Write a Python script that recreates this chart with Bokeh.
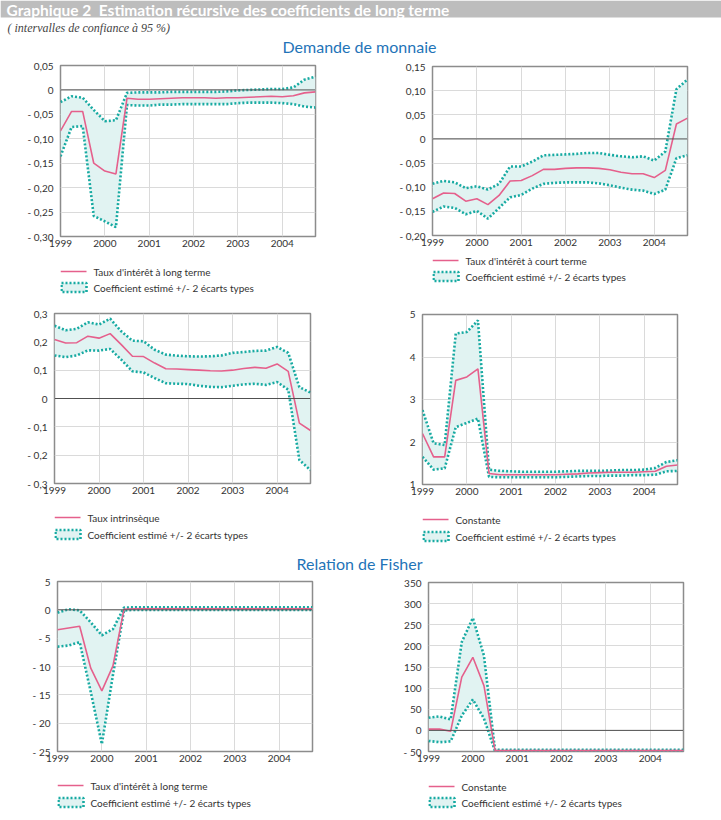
from bokeh.core.properties import value
from bokeh.embed import file_html
from bokeh.layouts import column, row
from bokeh.models import FixedTicker, Range1d, Span
from bokeh.plotting import figure
from bokeh.resources import INLINE

# ---------------------------------------------------------------- data
dates = [1999.0, 1999.25, 1999.5, 1999.75, 2000.0, 2000.25, 2000.5, 2000.75,
         2001.0, 2001.25, 2001.5, 2001.75, 2002.0, 2002.25, 2002.5, 2002.75,
         2003.0, 2003.25, 2003.5, 2003.75, 2004.0, 2004.25, 2004.5, 2004.75]

year_ticks = [1999, 2000, 2001, 2002, 2003, 2004]
year_labels = ["1999", "2000", "2001", "2002", "2003", "2004"]

# Demande de monnaie : taux d'intérêt à long terme
md_long_est = [-0.084, -0.044, -0.044, -0.150, -0.166, -0.172, -0.017, -0.019,
               -0.019, -0.018, -0.017, -0.016, -0.016, -0.016, -0.017, -0.016,
               -0.016, -0.015, -0.014, -0.013, -0.014, -0.012, -0.006, -0.004]
md_long_up = [-0.025, -0.013, -0.016, -0.041, -0.064, -0.062, -0.006, -0.005,
              -0.005, -0.005, -0.004, -0.004, -0.004, -0.004, -0.004, -0.003,
              -0.001, 0.000, 0.001, 0.002, 0.002, 0.005, 0.021, 0.027]
md_long_lo = [-0.136, -0.076, -0.074, -0.258, -0.269, -0.281, -0.031, -0.032,
              -0.032, -0.030, -0.030, -0.029, -0.029, -0.029, -0.029, -0.029,
              -0.027, -0.026, -0.026, -0.026, -0.027, -0.029, -0.034, -0.036]
md_long_ticks = [0.05, 0.0, -0.05, -0.10, -0.15, -0.20, -0.25, -0.30]
md_long_labels = ["0,05", "0", "- 0,05", "- 0,10", "- 0,15", "- 0,20", "- 0,25", "- 0,30"]

# Demande de monnaie : taux d'intérêt à court terme
md_court_est = [-0.124, -0.112, -0.113, -0.129, -0.124, -0.136, -0.117, -0.087,
                -0.086, -0.076, -0.063, -0.063, -0.061, -0.060, -0.060, -0.061,
                -0.064, -0.069, -0.072, -0.072, -0.080, -0.065, 0.031, 0.043]
md_court_up = [-0.093, -0.087, -0.090, -0.102, -0.098, -0.105, -0.093, -0.057,
               -0.057, -0.047, -0.034, -0.033, -0.032, -0.031, -0.029, -0.029,
               -0.033, -0.036, -0.038, -0.036, -0.045, -0.026, 0.103, 0.123]
md_court_lo = [-0.151, -0.140, -0.143, -0.156, -0.149, -0.165, -0.143, -0.121,
               -0.116, -0.103, -0.093, -0.091, -0.090, -0.090, -0.090, -0.092,
               -0.096, -0.101, -0.105, -0.107, -0.114, -0.105, -0.040, -0.034]
md_court_ticks = [0.15, 0.10, 0.05, 0.0, -0.05, -0.10, -0.15, -0.20]
md_court_labels = ["0,15", "0,10", "0,05", "0", "- 0,05", "- 0,10", "- 0,15", "- 0,20"]

# Demande de monnaie : taux intrinsèque
md_intr_est = [0.208, 0.196, 0.197, 0.220, 0.213, 0.229, 0.190, 0.149,
               0.148, 0.125, 0.105, 0.104, 0.102, 0.100, 0.098, 0.097,
               0.100, 0.106, 0.110, 0.107, 0.122, 0.096, -0.087, -0.113]
md_intr_up = [0.257, 0.241, 0.246, 0.269, 0.261, 0.282, 0.237, 0.204,
              0.202, 0.172, 0.155, 0.151, 0.149, 0.148, 0.149, 0.152,
              0.161, 0.164, 0.168, 0.169, 0.182, 0.161, 0.040, 0.021]
md_intr_lo = [0.152, 0.146, 0.152, 0.170, 0.169, 0.175, 0.137, 0.096,
              0.092, 0.072, 0.054, 0.052, 0.051, 0.045, 0.041, 0.040,
              0.045, 0.050, 0.052, 0.048, 0.058, 0.031, -0.217, -0.253]
md_intr_ticks = [0.3, 0.2, 0.1, 0.0, -0.1, -0.2, -0.3]
md_intr_labels = ["0,3", "0,2", "0,1", "0", "- 0,1", "- 0,2", "- 0,3"]

# Demande de monnaie : constante
md_const_est = [2.20, 1.65, 1.65, 3.45, 3.53, 3.72, 1.26, 1.23,
                1.23, 1.23, 1.23, 1.23, 1.23, 1.24, 1.25, 1.27,
                1.28, 1.29, 1.29, 1.29, 1.30, 1.31, 1.43, 1.46]
md_const_up = [2.75, 1.97, 1.93, 4.55, 4.59, 4.86, 1.35, 1.32,
               1.31, 1.30, 1.30, 1.30, 1.30, 1.31, 1.32, 1.32,
               1.32, 1.33, 1.34, 1.34, 1.35, 1.39, 1.53, 1.57]
md_const_lo = [1.65, 1.35, 1.38, 2.35, 2.45, 2.55, 1.18, 1.17,
               1.17, 1.17, 1.17, 1.17, 1.17, 1.18, 1.19, 1.20,
               1.20, 1.21, 1.21, 1.22, 1.22, 1.23, 1.31, 1.32]
md_const_ticks = [5, 4, 3, 2, 1]
md_const_labels = ["5", "4", "3", "2", "1"]

# Relation de Fisher : taux d'intérêt à long terme
fi_long_est = [-3.5, -3.2, -2.9, -10.3, -14.3, -9.9, 0.1, 0.2,
               0.2, 0.2, 0.2, 0.2, 0.2, 0.2, 0.2, 0.2,
               0.2, 0.2, 0.2, 0.2, 0.2, 0.2, 0.2, 0.2]
fi_long_up = [-0.5, 0.1, -0.1, -2.2, -4.5, -3.4, 0.4, 0.45,
              0.45, 0.45, 0.45, 0.45, 0.45, 0.45, 0.45, 0.45,
              0.45, 0.45, 0.45, 0.45, 0.45, 0.45, 0.45, 0.45]
fi_long_lo = [-6.5, -6.3, -5.7, -14.5, -23.7, -11.5, -0.1, 0.0,
              0.0, 0.0, 0.0, 0.0, 0.0, 0.0, 0.0, 0.0,
              0.0, 0.0, 0.0, 0.0, 0.0, 0.0, 0.0, 0.0]
fi_long_ticks = [5, 0, -5, -10, -15, -20, -25]
fi_long_labels = ["5", "0", "- 5", "- 10", "- 15", "- 20", "- 25"]

# Relation de Fisher : constante
fi_const_est = [3, 3, -2, 126, 173, 106, -48, -48,
                -48, -48, -48, -48, -48, -48, -48, -48,
                -48, -48, -48, -48, -48, -48, -48, -48]
fi_const_up = [30, 33, 26, 209, 266, 177, -46, -46,
               -46, -46, -46, -46, -46, -46, -46, -46,
               -46, -46, -46, -46, -46, -46, -46, -46]
fi_const_lo = [-25, -28, -26, 35, 73, 28, -49, -49,
               -49, -49, -49, -49, -49, -49, -49, -49,
               -49, -49, -49, -49, -49, -49, -49, -49]
fi_const_ticks = [350, 300, 250, 200, 150, 100, 50, 0, -50]
fi_const_labels = ["350", "300", "250", "200", "150", "100", "50", "0", "- 50"]

band_label = "Coefficient estimé +/- 2 écarts types"

# ---------------------------------------------------------------- style
FONT = "Lato"
PINK = "#e5608c"
TEAL = "#17aaa2"
BAND = "#e1f3f2"
GRID = "#dadada"
FRAME = "#8c8c8c"
TEXT = "#333333"
BLUE = "#1f74b8"
AXIS_BAND = 20  # room under the frame for the year labels


def blank(width, height, left=0, right=0):
    """Axis-free canvas whose data units are pixels (y grows downward).

    ``left``/``right`` reserve side borders so the drawing area lines up
    with the frame of the panel above it; x stays in page pixels.
    """
    h = figure(width=width, height=height, output_backend="svg",
               toolbar_location=None, x_axis_type=None, y_axis_type=None,
               x_range=Range1d(left, width - right), y_range=Range1d(height, 0),
               min_border=0, min_border_left=left, min_border_right=right,
               outline_line_color=None)
    h.grid.visible = False
    h.background_fill_color = "white"
    h.border_fill_color = "white"
    return h


def key(width, height, left, right, rows, label):
    """Two-entry key drawn under a panel, starting at the frame's left edge."""
    k = blank(width, height, left, right)
    r1, r2 = rows
    x0 = left
    k.segment(x0=[x0], y0=[r1], x1=[x0 + 26], y1=[r1],
              line_color=PINK, line_width=1.6)
    k.quad(left=[x0 + 1], right=[x0 + 26], top=[r2 - 4.5], bottom=[r2 + 4.5],
           fill_color=BAND, line_color=TEAL, line_width=2.6, line_dash="2 2")
    k.text(x=[x0 + 33, x0 + 33], y=[r1, r2], text=[label, band_label],
           text_font=value(FONT), text_font_size="10px", text_color=TEXT,
           text_baseline="middle", text_align="left")
    return k


def panel(width, cell_height, borders, y_lim, ticks, tick_labels,
          est, upper, lower, label, key_rows, zero_line=True):
    left, right, top, frame_h = borders
    height = top + frame_h + AXIS_BAND
    p = figure(width=width, height=height, output_backend="svg",
               toolbar_location=None,
               x_range=Range1d(dates[0], dates[-1]),
               y_range=Range1d(*y_lim),
               min_border_left=left, min_border_right=right,
               min_border_top=top, min_border_bottom=AXIS_BAND)
    p.background_fill_color = "white"
    p.border_fill_color = "white"
    p.outline_line_color = FRAME
    p.outline_line_width = 1.5

    for ax, tk, lb, standoff in ((p.xaxis, year_ticks, year_labels, 3),
                                 (p.yaxis, ticks, tick_labels, 7)):
        ax.ticker = FixedTicker(ticks=tk)
        ax.major_label_overrides = dict(zip(tk, lb))
        ax.axis_line_color = None
        ax.major_tick_line_color = None
        ax.minor_tick_line_color = None
        ax.major_tick_out = 0
        ax.major_tick_in = 0
        ax.major_label_standoff = standoff
        ax.major_label_text_font = FONT
        ax.major_label_text_font_size = "10px"
        ax.major_label_text_color = TEXT

    p.xgrid.ticker = FixedTicker(ticks=year_ticks)
    p.ygrid.ticker = FixedTicker(ticks=ticks)
    p.grid.grid_line_color = GRID
    p.grid.grid_line_width = 1

    # confidence band and its dotted bounds
    p.varea(x=dates, y1=lower, y2=upper, fill_color=BAND)
    if zero_line:
        p.add_layout(Span(location=0, dimension="width",
                          line_color="#505050", line_width=1))
    for bound in (upper, lower):
        p.line(dates, bound, line_color=TEAL, line_width=2.6,
               line_dash="2 2", line_cap="butt")
    p.line(dates, est, line_color=PINK, line_width=1.6)

    k = key(width, cell_height - height, left, right, key_rows, label)
    return column(p, k)


# ---------------------------------------------------------------- headings
top = blank(721, 56)
top.quad(left=0, right=721, top=0, bottom=17, fill_color="#bdbdbd",
         line_color=None)
top.text(x=[6], y=[9],
         text=["Graphique 2\u00a0\u00a0Estimation récursive des coefficients de long terme"],
         text_font=value(FONT), text_font_style="bold", text_font_size="15.5px",
         text_color="white", text_baseline="middle", text_align="left")
top.text(x=[7], y=[27], text=["( intervalles de confiance à 95 %)"],
         text_font=value("Liberation Serif"), text_font_style="italic",
         text_font_size="12px", text_color="#444444",
         text_baseline="middle", text_align="left")
top.text(x=[359], y=[46], text=["Demande de monnaie"],
         text_font=value(FONT), text_font_size="16px", text_color=BLUE,
         text_baseline="middle", text_align="center")

mid = blank(721, 26)
mid.text(x=[359], y=[15], text=["Relation de Fisher"],
         text_font=value(FONT), text_font_size="16px", text_color=BLUE,
         text_baseline="middle", text_align="center")

# ---------------------------------------------------------------- panels
p1 = panel(360, 244, (60, 45, 9, 171), (-0.30, 0.05), md_long_ticks, md_long_labels,
           md_long_est, md_long_up, md_long_lo, "Taux d'intérêt à long terme", (15, 31))
p2 = panel(361, 244, (72, 34, 10, 169), (-0.20, 0.15), md_court_ticks, md_court_labels,
           md_court_est, md_court_up, md_court_lo, "Taux d'intérêt à court terme", (5, 21))
p3 = panel(360, 248, (54, 50, 13, 170), (-0.3, 0.3), md_intr_ticks, md_intr_labels,
           md_intr_est, md_intr_up, md_intr_lo, "Taux intrinsèque", (14, 31))
p4 = panel(361, 248, (62, 44, 14, 170), (1, 5), md_const_ticks, md_const_labels,
           md_const_est, md_const_up, md_const_lo, "Constante", (15, 32), zero_line=False)
p5 = panel(360, 246, (57, 48, 7, 170), (-25, 5), fi_long_ticks, fi_long_labels,
           fi_long_est, fi_long_up, fi_long_lo, "Taux d'intérêt à long terme", (14, 31))
p6 = panel(361, 246, (68, 38, 8, 169), (-50, 350), fi_const_ticks, fi_const_labels,
           fi_const_est, fi_const_up, fi_const_lo, "Constante", (15, 31))

page = column(top, row(p1, p2), row(p3, p4), mid, row(p5, p6))

open("out.html", "w").write(file_html(page, INLINE))
